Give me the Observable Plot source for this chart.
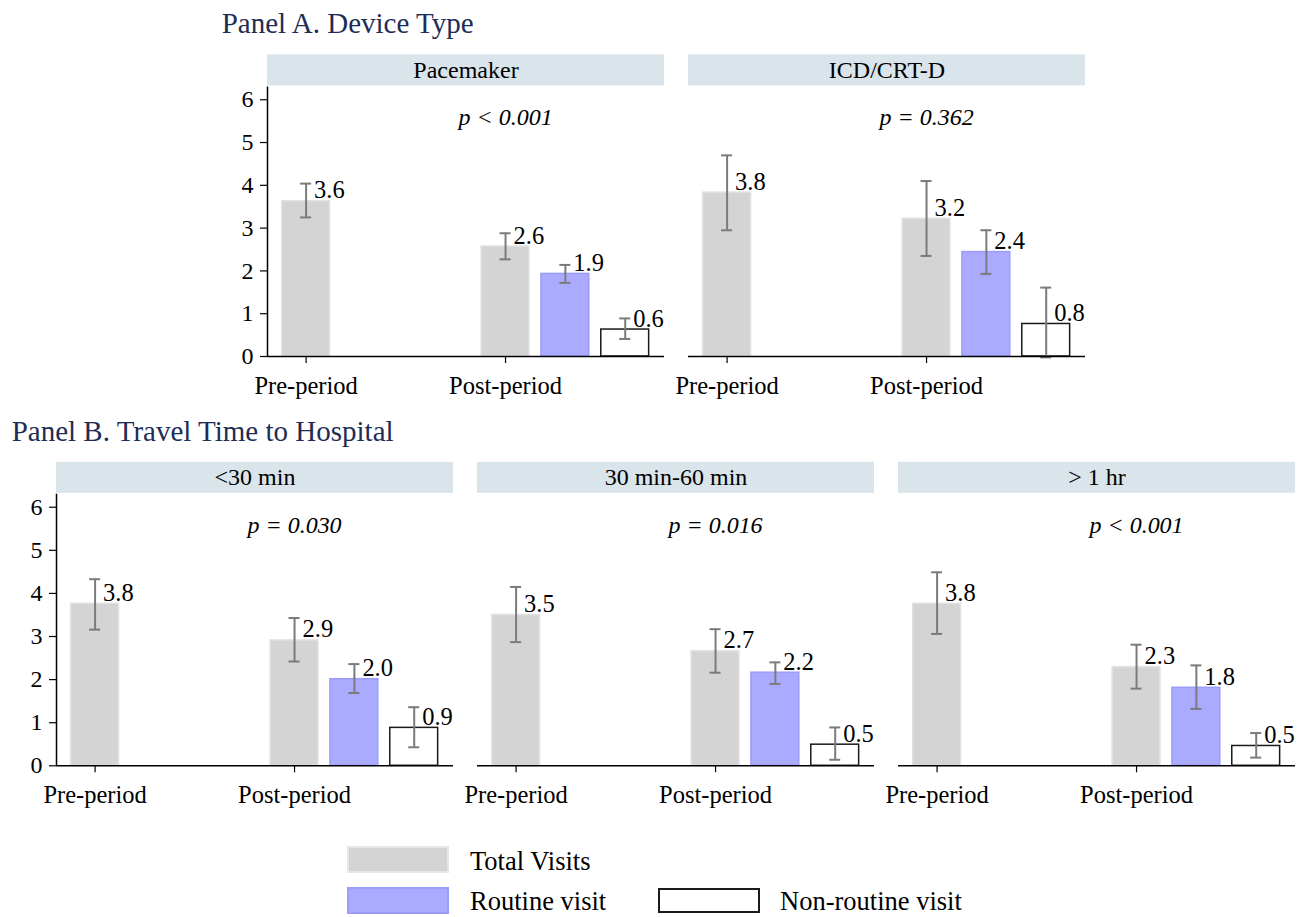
<!DOCTYPE html>
<html><head><meta charset="utf-8">
<script src="https://cdn.jsdelivr.net/npm/d3@7"></script>
<script src="https://cdn.jsdelivr.net/npm/@observablehq/plot@0.6"></script>
<style>
body{margin:0;background:#fff;}
#wrap{position:relative;width:1307px;height:917px;font-family:"Liberation Serif","Times New Roman",serif;color:#000;overflow:hidden;background:#fff;}
#wrap svg, #wrap svg text{font-family:"Liberation Serif","Times New Roman",serif !important;font-variant:normal !important;font-variant-numeric:normal !important;}
.abs{position:absolute;white-space:nowrap;}
.title{font-size:29px;line-height:29px;color:#1e2d55;}
.leg{font-size:26.5px;line-height:26.5px;color:#000;}
.sw{position:absolute;box-sizing:border-box;}
</style></head>
<body><div id="wrap"></div>
<script>
// ---------- DATA ----------
const panelTitles = ["Panel A. Device Type", "Panel B. Travel Time to Hospital"];
const panelAFacets = ["Pacemaker", "ICD/CRT-D"];
const panelBFacets = ["<30 min", "30 min-60 min", "> 1 hr"];
const periods = ["Pre-period", "Post-period"];
const visitTypes = ["Total Visits", "Routine visit", "Non-routine visit"];
// bar order within each facet
const barPeriod = ["Pre-period", "Post-period", "Post-period", "Post-period"];
const barType = ["Total Visits", "Total Visits", "Routine visit", "Non-routine visit"];

const pacemakerMean = [3.63, 2.57, 1.93, 0.63];
const pacemakerLo   = [3.25, 2.27, 1.72, 0.41];
const pacemakerHi   = [4.04, 2.88, 2.14, 0.89];

const icdMean = [3.83, 3.22, 2.44, 0.76];
const icdLo   = [2.95, 2.35, 1.93, -0.02];
const icdHi   = [4.70, 4.10, 2.95, 1.61];

const under30Mean = [3.76, 2.91, 2.01, 0.88];
const under30Lo   = [3.16, 2.42, 1.69, 0.43];
const under30Hi   = [4.33, 3.43, 2.36, 1.36];

const mid30to60Mean = [3.50, 2.66, 2.16, 0.49];
const mid30to60Lo   = [2.87, 2.16, 1.90, 0.14];
const mid30to60Hi   = [4.15, 3.17, 2.40, 0.89];

const over1hrMean = [3.76, 2.29, 1.81, 0.46];
const over1hrLo   = [3.06, 1.79, 1.32, 0.19];
const over1hrHi   = [4.49, 2.81, 2.33, 0.76];

const pValuesA = ["p < 0.001", "p = 0.362"];
const pValuesB = ["p = 0.030", "p = 0.016", "p < 0.001"];
const yTicks = [0, 1, 2, 3, 4, 5, 6];

// ---------- BUILD ----------
function rows(facet, mean, lo, hi) {
  return mean.map((m, i) => ({facet, period: barPeriod[i], type: barType[i], mean: m, lo: lo[i], hi: hi[i]}));
}
const dataA = [
  ...rows(panelAFacets[0], pacemakerMean, pacemakerLo, pacemakerHi),
  ...rows(panelAFacets[1], icdMean, icdLo, icdHi)
];
const dataB = [
  ...rows(panelBFacets[0], under30Mean, under30Lo, under30Hi),
  ...rows(panelBFacets[1], mid30to60Mean, mid30to60Lo, mid30to60Hi),
  ...rows(panelBFacets[2], over1hrMean, over1hrLo, over1hrHi)
];

// slot layout (1 unit = bar pitch)
const postOffset = 10 / 3;
const slot = d => d.period === periods[0] ? 0 : postOffset + visitTypes.indexOf(d.type);
const xDomain = [-0.645, 5.99];
const tickPos = [0, postOffset];
const yMax = 6.3;

const typeStyle = {
  "Total Visits": {fill: "#d4d4d4", stroke: "#e2e2e2"},
  "Routine visit": {fill: "#aaaaff", stroke: "#9c9cfa"},
  "Non-routine visit": {fill: "#ffffff", stroke: "#1a1a1a"}
};
const stripColor = "#d9e4eb";
const errColor = "#7b7b7b";
const FONT = "Liberation Serif";

function panel(facets, data, pvals, opts) {
  const n = facets.length;
  const range = 1307 - opts.marginLeft - opts.marginRight;
  const bw = 398;
  const step = (range - bw) / (n - 1);
  const paddingInner = (step - bw) / step;
  const txt = {fontFamily: FONT, fontVariant: "normal", fill: "#000"};
  const marks = [
    Plot.rect(facets, {fx: d => d, x1: () => xDomain[0], x2: () => xDomain[1], y1: () => yMax, y2: () => yMax,
      insetTop: -32, insetBottom: 1, fill: stripColor}),
    Plot.text(facets, {...txt, fx: d => d, x: () => (xDomain[0] + xDomain[1]) / 2, y: () => yMax, text: d => d,
      dy: -16.5, fontSize: 24, lineAnchor: "middle"}),
    Plot.text(facets, {...txt, fx: d => d, x: () => postOffset, y: () => 5.4, text: (d, i) => pvals[i],
      fontStyle: "italic", fontSize: 24, lineAnchor: "bottom"})
  ];
  for (const t of visitTypes) {
    marks.push(Plot.rect(data.filter(d => d.type === t), {
      fx: "facet", x1: d => slot(d) - 0.4, x2: d => slot(d) + 0.4, y1: () => 0, y2: "mean",
      fill: typeStyle[t].fill, stroke: typeStyle[t].stroke, strokeWidth: 1.5
    }));
  }
  marks.push(
    Plot.ruleX(data, {fx: "facet", x: slot, y1: "lo", y2: "hi", stroke: errColor, strokeWidth: 2}),
    Plot.ruleY(data, {fx: "facet", x1: slot, x2: slot, y: "hi", insetLeft: -5.5, insetRight: -5.5, stroke: errColor, strokeWidth: 2}),
    Plot.ruleY(data, {fx: "facet", x1: slot, x2: slot, y: "lo", insetLeft: -5.5, insetRight: -5.5, stroke: errColor, strokeWidth: 2}),
    Plot.text(data, {...txt, fx: "facet", x: slot, y: "mean", text: d => d.mean.toFixed(1), textAnchor: "start",
      lineAnchor: "bottom", dx: 8, dy: -3, fontSize: 24.5}),
    Plot.ruleY([0], {stroke: "#000", strokeWidth: 1.5}),
    Plot.ruleX([facets[0]], {fx: d => d, x: () => xDomain[0], y1: () => 0, y2: () => yMax, stroke: "#000", strokeWidth: 1.5}),
    Plot.axisY({ticks: yTicks, tickFormat: d => String(d), tickSize: 7, tickPadding: 7, fontSize: 24, fontFamily: FONT,
      fontVariant: "normal", label: null, strokeWidth: 1.2}),
    Plot.axisX({ticks: tickPos, tickFormat: v => periods[tickPos.indexOf(v)], tickSize: 7, tickPadding: 13,
      fontSize: 24.5, fontFamily: FONT, label: null, strokeWidth: 1.2})
  );
  return Plot.plot({
    width: 1307, height: opts.height,
    marginLeft: opts.marginLeft, marginRight: opts.marginRight, marginTop: opts.marginTop, marginBottom: 50,
    style: {fontFamily: FONT, fontSize: "24px", color: "#000", background: "transparent", overflow: "visible"},
    x: {type: "linear", domain: xDomain, label: null},
    y: {domain: [0, yMax], label: null},
    fx: {domain: facets, paddingInner, paddingOuter: 0, axis: null, label: null},
    marks
  });
}

const wrap = document.getElementById("wrap");
const svgA = panel(panelAFacets, dataA, pValuesA, {marginLeft: 266, marginRight: 221.3, marginTop: 86.4, height: 406});
svgA.style.position = "absolute"; svgA.style.left = "0px"; svgA.style.top = "0px";
wrap.appendChild(svgA);
const svgB = panel(panelBFacets, dataB, pValuesB, {marginLeft: 55, marginRight: 10.4, marginTop: 83.8, height: 405.3});
svgB.style.position = "absolute"; svgB.style.left = "0px"; svgB.style.top = "410px";
wrap.appendChild(svgB);

function addText(txt, cls, left, top) {
  const el = document.createElement("div");
  el.className = "abs " + cls;
  el.textContent = txt;
  el.style.left = left + "px"; el.style.top = top + "px";
  wrap.appendChild(el);
}
addText(panelTitles[0], "title", 221.7, 8.7);
addText(panelTitles[1], "title", 11.7, 417.4);

function addSwatch(type, left, top, w, h, bw) {
  const el = document.createElement("div");
  el.className = "sw";
  el.style.left = left + "px"; el.style.top = top + "px";
  el.style.width = w + "px"; el.style.height = h + "px";
  el.style.background = typeStyle[type].fill;
  el.style.border = bw + "px solid " + (type === "Total Visits" ? "#e6e6e6" : typeStyle[type].stroke);
  wrap.appendChild(el);
}
addSwatch(visitTypes[0], 347, 846, 102, 27, 2.5);
addSwatch(visitTypes[1], 347, 887, 102, 26.5, 2);
addSwatch(visitTypes[2], 658, 887.5, 101.5, 25.5, 2);
addText(visitTypes[0], "leg", 470, 847.8);
addText(visitTypes[1], "leg", 470, 888.3);
addText(visitTypes[2], "leg", 780, 888.3);
</script></body></html>
